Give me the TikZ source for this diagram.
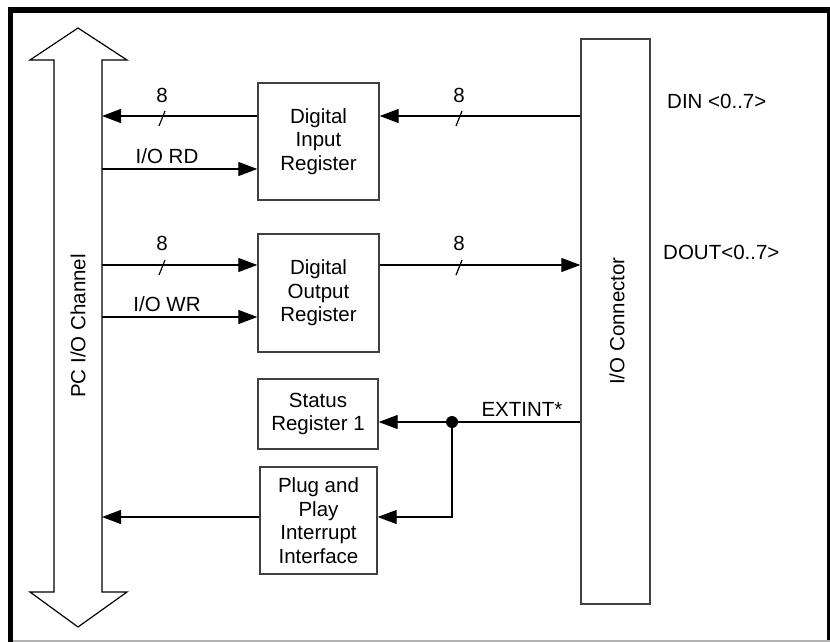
\documentclass[tikz,border=0pt]{standalone}
\usepackage{fontspec}
\setmainfont{Liberation Sans}
\usetikzlibrary{arrows.meta}
\begin{document}
\begin{tikzpicture}[x=1pt,y=-1pt,
  box/.style={draw=black!75,line width=1.4pt,align=center,inner sep=0pt,
    font=\fontsize{20.5}{23.5}\selectfont},
  conn/.style={line width=1.2pt,draw=black},
  arr/.style={conn,-{Triangle[length=19pt,width=14pt]}},
  lbl/.style={font=\fontsize{20.5}{23.5}\selectfont,inner sep=0pt}]
\useasboundingbox (0,0) rectangle (830,642);
% frame
\fill[white] (0,0) rectangle (830,642);
\fill[black] (8,7) rectangle (13,642);
\fill[black] (8,7) rectangle (830,13);
\fill[black] (827,7) rectangle (830,640);
\fill[black!30] (13,639.5) rectangle (830,642);
% bus double arrow
\draw[line width=1.2pt,fill=white] (78,28) -- (127,60) -- (102,60) -- (102,592) -- (127,592)
  -- (78,627) -- (30,592) -- (54,592) -- (54,60) -- (30,60) -- cycle;
\node[lbl,rotate=90] (bus) at (78,326) {PC I/O Channel};
\coordinate (busR) at (102,0);
% boxes
\node[box,minimum width=121pt,minimum height=117pt] (dir) at (318.5,141.5) {Digital\\Input\\Register};
\node[box,minimum width=121pt,minimum height=118pt] (dor) at (318.5,293) {Digital\\Output\\Register};
\node[box,minimum width=120pt,minimum height=70pt] (sr) at (318,414) {Status\\Register 1};
\node[box,minimum width=117pt,minimum height=107pt] (pnp) at (318.5,520.5) {Plug and\\Play\\Interrupt\\Interface};
\node[box,minimum width=69pt,minimum height=565pt] (ioc) at (615.5,321.5) {};
\node[lbl,rotate=90] (ioct) at (617,321) {I/O Connector};
% y levels
\coordinate (y1) at (0,116);
\coordinate (y2) at (0,169);
\coordinate (y3) at (0,265);
\coordinate (y4) at (0,317);
\coordinate (y5) at (0,422);
\coordinate (y6) at (0,517);
% connectors
\draw[arr] (dir.west |- y1) -- (busR |- y1);
\draw[arr] (busR |- y2) -- (dir.west |- y2);
\draw[arr] (busR |- y3) -- (dor.west |- y3);
\draw[arr] (busR |- y4) -- (dor.west |- y4);
\draw[arr] (ioc.west |- y1) -- (dir.east |- y1);
\draw[arr] (dor.east |- y3) -- (ioc.west |- y3);
\coordinate (j) at (452,422);
\draw[arr] (ioc.west |- y5) -- (sr.east |- y5);
\draw[arr] (j) -- (j |- y6) -- (pnp.east |- y6);
\fill (j) circle (6pt);
\draw[arr] (pnp.west |- y6) -- (busR |- y6);
% bus width slashes
\draw[conn] (159,126) -- (165,111);
\draw[conn] (456,126) -- (462,111);
\draw[conn] (159,275) -- (165,260);
\draw[conn] (456,275) -- (462,260);
% labels
\node[lbl] (n1) at (162,95) {8};
\node[lbl] (n2) at (459,95) {8};
\node[lbl] (n3) at (162,243) {8};
\node[lbl] (n4) at (459,243) {8};
\node[lbl,anchor=base] (iord) at (167,163) {I/O RD};
\node[lbl,anchor=base] (iowr) at (167,311) {I/O WR};
\node[lbl,anchor=base] (ext) at (522,416) {EXTINT*};
\node[lbl,anchor=base west] (din) at (667,108) {DIN <0..7>};
\node[lbl,anchor=base west] (dout) at (663,259) {DOUT<0..7>};
\end{tikzpicture}
\end{document}
